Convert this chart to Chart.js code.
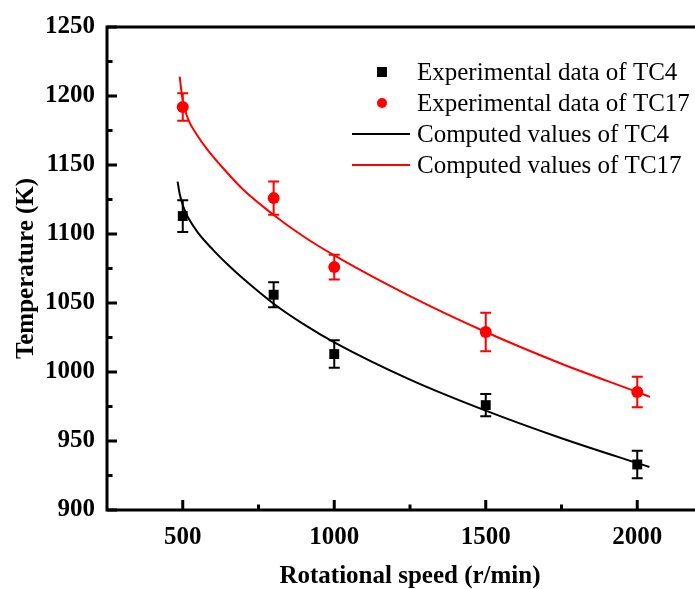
<!DOCTYPE html>
<html>
<head>
<meta charset="utf-8">
<script src="https://cdn.jsdelivr.net/npm/chart.js@4.4.1/dist/chart.umd.min.js"></script>
<style>
  html, body { margin: 0; padding: 0; background: #fff; overflow: hidden; width: 695px; height: 589px; }
  #wrap { position: relative; width: 720px; height: 589px; }
</style>
</head>
<body>
<div id="wrap"><canvas id="c" width="720" height="589"></canvas></div>
<script>
// Measured temperatures at each rotational speed (r/min)
const speeds = [500, 800, 1000, 1500, 2000];
const tc4Measured = [1113, 1056, 1013, 976, 933];
const tc4Error = [11.5, 9, 10, 8, 10];
const tc17Measured = [1192, 1126, 1076, 1029, 985.5];
const tc17Error = [10, 12, 9, 14, 11];

// Model predictions
const tc4ModelSpeed = [483, 490, 500, 510, 520, 550, 600, 650, 700, 800, 900, 1000, 1250, 1500, 1750, 2000, 2040];
const tc4ModelTemp = [1138, 1129, 1121, 1115.5, 1111, 1101, 1088.5, 1077.5, 1067.5, 1049.5, 1034.5, 1021.5, 994.5, 972, 952, 934, 931.2];
const tc17ModelSpeed = [490, 497, 505, 520, 545, 580, 620, 700, 800, 900, 1000, 1250, 1500, 1750, 2000, 2042];
const tc17ModelTemp = [1214, 1201, 1192, 1182, 1172.5, 1161.5, 1151, 1132, 1113.8, 1098, 1084.5, 1055, 1029, 1006, 985.5, 982];

// Axis ticks
const xTicks = [500, 1000, 1500, 2000];
const xMinorTicks = [750, 1250, 1750];
const yTicks = [900, 950, 1000, 1050, 1100, 1150, 1200, 1250];
const yMinorTicks = [925, 975, 1025, 1075, 1125, 1175, 1225];

const SERIF = "'Liberation Serif', 'Times New Roman', Times, serif";

const pairs = (xs, ys) => xs.map((x, i) => ({ x: x, y: ys[i] }));

const errors = {
  0: tc4Error,
  1: tc17Error
};

// Vertical error bars with caps for the measured series
const errorBarPlugin = {
  id: 'errorBars',
  afterDatasetsDraw(chart) {
    const ctx = chart.ctx;
    const xs = chart.scales.x, ys = chart.scales.y;
    Object.keys(errors).forEach(k => {
      const ds = chart.data.datasets[k];
      const err = errors[k];
      ctx.save();
      ctx.strokeStyle = ds.borderColor;
      ctx.lineWidth = 2;
      ds.data.forEach((p, i) => {
        const px = xs.getPixelForValue(p.x);
        const top = ys.getPixelForValue(p.y + err[i]);
        const bot = ys.getPixelForValue(p.y - err[i]);
        ctx.beginPath();
        ctx.moveTo(px, top); ctx.lineTo(px, bot);
        ctx.moveTo(px - 5.5, top); ctx.lineTo(px + 5.5, top);
        ctx.moveTo(px - 5.5, bot); ctx.lineTo(px + 5.5, bot);
        ctx.stroke();
      });
      ctx.restore();
    });
  }
};

// Plot frame with inward major and minor ticks
const framePlugin = {
  id: 'frame',
  afterDraw(chart) {
    const ctx = chart.ctx;
    const { left, right, top, bottom } = chart.chartArea;
    const xs = chart.scales.x, ys = chart.scales.y;
    ctx.save();
    ctx.strokeStyle = '#000';
    ctx.lineWidth = 3;
    ctx.lineCap = 'butt';
    ctx.strokeRect(left, top, right - left, bottom - top);
    ctx.beginPath();
    xTicks.forEach(v => { const p = xs.getPixelForValue(v); ctx.moveTo(p, bottom); ctx.lineTo(p, bottom - 10); });
    xMinorTicks.forEach(v => { const p = xs.getPixelForValue(v); ctx.moveTo(p, bottom); ctx.lineTo(p, bottom - 5.5); });
    yTicks.forEach(v => { const p = ys.getPixelForValue(v); ctx.moveTo(left, p); ctx.lineTo(left + 10, p); });
    yMinorTicks.forEach(v => { const p = ys.getPixelForValue(v); ctx.moveTo(left, p); ctx.lineTo(left + 5.5, p); });
    ctx.stroke();
    ctx.restore();
  }
};

// Legend drawn inside the plot, upper right
const legendPlugin = {
  id: 'insideLegend',
  afterDraw(chart) {
    const ctx = chart.ctx;
    const items = [
      { ds: 0, kind: 'rect' },
      { ds: 1, kind: 'circle' },
      { ds: 2, kind: 'line' },
      { ds: 3, kind: 'line' }
    ];
    const rowY = [72, 103, 134, 165];
    ctx.save();
    ctx.font = '25px ' + SERIF;
    ctx.textBaseline = 'alphabetic';
    ctx.textAlign = 'left';
    items.forEach((it, i) => {
      const ds = chart.data.datasets[it.ds];
      const y = rowY[i];
      ctx.fillStyle = ds.borderColor;
      ctx.strokeStyle = ds.borderColor;
      if (it.kind === 'rect') {
        ctx.fillRect(377, y - 5, 10, 10);
      } else if (it.kind === 'circle') {
        ctx.beginPath(); ctx.arc(382, y, 5, 0, Math.PI * 2); ctx.fill();
      } else {
        ctx.lineWidth = 2;
        ctx.beginPath(); ctx.moveTo(352, y); ctx.lineTo(410, y); ctx.stroke();
      }
      ctx.fillStyle = '#000';
      ctx.fillText(ds.label, 417, y + 8);
    });
    ctx.restore();
  }
};

const tickFont = { family: SERIF, size: 25, weight: 'bold' };
const titleFont = { family: SERIF, size: 25, weight: 'bold', lineHeight: 1 };
const plainNumber = v => String(v);

new Chart(document.getElementById('c'), {
  type: 'scatter',
  data: {
    datasets: [
      {
        label: 'Experimental data of TC4',
        data: pairs(speeds, tc4Measured),
        pointStyle: 'rect', pointRadius: 7, pointHoverRadius: 7,
        backgroundColor: '#000', borderColor: '#000', borderWidth: 0
      },
      {
        label: 'Experimental data of TC17',
        data: pairs(speeds, tc17Measured),
        pointStyle: 'circle', pointRadius: 6, pointHoverRadius: 6,
        backgroundColor: '#ff0000', borderColor: '#ff0000', borderWidth: 0
      },
      {
        label: 'Computed values of TC4',
        data: pairs(tc4ModelSpeed, tc4ModelTemp),
        showLine: true, pointRadius: 0, borderColor: '#000', borderWidth: 2,
        cubicInterpolationMode: 'monotone', fill: false
      },
      {
        label: 'Computed values of TC17',
        data: pairs(tc17ModelSpeed, tc17ModelTemp),
        showLine: true, pointRadius: 0, borderColor: '#ff0000', borderWidth: 2,
        cubicInterpolationMode: 'monotone', fill: false
      }
    ]
  },
  options: {
    responsive: false,
    animation: false,
    devicePixelRatio: 1,
    layout: { padding: { top: 20, right: 6, bottom: 0, left: 0 } },
    plugins: { legend: { display: false }, tooltip: { enabled: false } },
    scales: {
      x: {
        type: 'linear', min: 250, max: 2250,
        afterBuildTicks: s => { s.ticks = xTicks.map(v => ({ value: v })); },
        afterFit: s => { s.height = 79; },
        grid: { display: false, drawTicks: false },
        border: { display: false },
        ticks: { font: tickFont, color: '#000', padding: 13, maxRotation: 0, autoSkip: false, callback: plainNumber },
        title: { display: true, text: 'Rotational speed (r/min)', color: '#000', font: titleFont, padding: 0 }
      },
      y: {
        type: 'linear', min: 900, max: 1250,
        afterBuildTicks: s => { s.ticks = yTicks.map(v => ({ value: v })); },
        afterFit: s => { s.width = 107; },
        grid: { display: false, drawTicks: false },
        border: { display: false },
        ticks: { font: tickFont, color: '#000', padding: 12, callback: plainNumber },
        title: { display: true, text: 'Temperature (K)', color: '#000', font: titleFont, padding: { top: 14, bottom: 0 } }
      }
    }
  },
  plugins: [errorBarPlugin, framePlugin, legendPlugin]
});
</script>
</body>
</html>
